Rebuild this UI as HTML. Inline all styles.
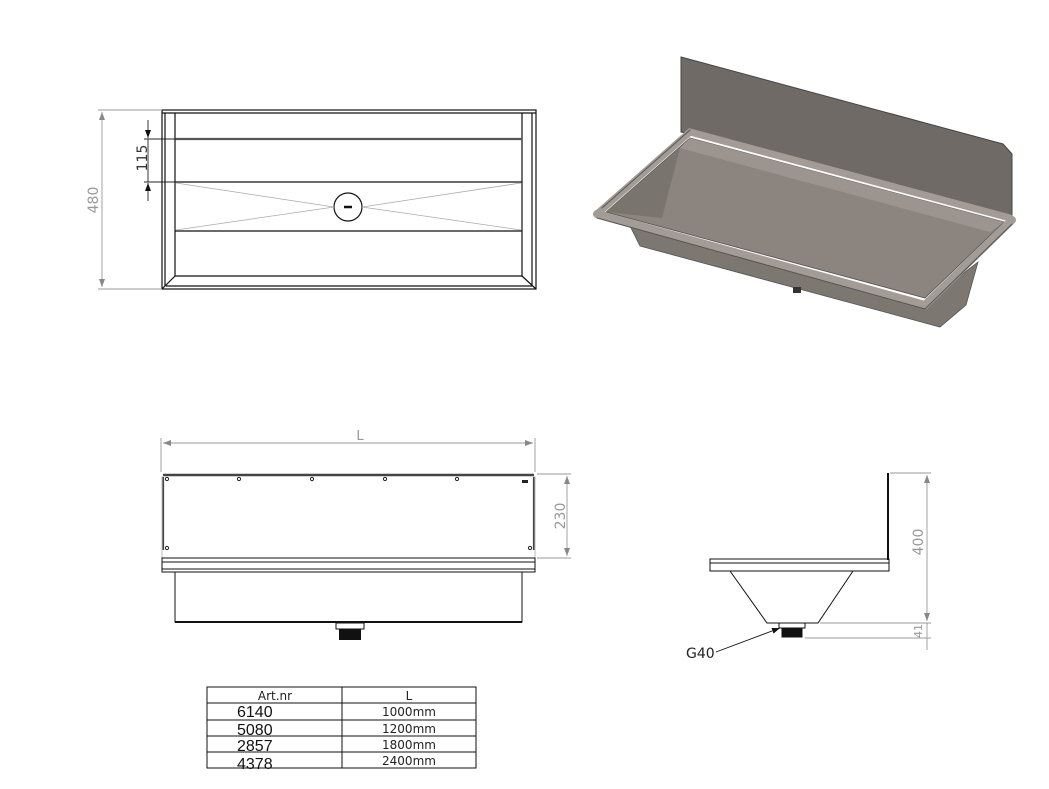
<!DOCTYPE html>
<html><head><meta charset="utf-8"><style>
html,body{margin:0;padding:0;background:#fff;}
svg{display:block;font-family:"DejaVu Sans","Liberation Sans",sans-serif;}
</style></head><body>
<svg width="1049" height="789" viewBox="0 0 1049 789" xmlns="http://www.w3.org/2000/svg">
<defs>
<marker id="ag" markerWidth="8" markerHeight="6" refX="8" refY="3" orient="auto-start-reverse" markerUnits="userSpaceOnUse"><path d="M0,0 L8,3 L0,6z" fill="#888"/></marker>
<marker id="ak" markerWidth="8" markerHeight="6" refX="8" refY="3" orient="auto-start-reverse" markerUnits="userSpaceOnUse"><path d="M0,0 L8,3 L0,6z" fill="#111"/></marker>
</defs>
<g fill="none" stroke="#111" stroke-width="1.2">
<rect x="162" y="110" width="374" height="179"/>
<line x1="162" y1="113" x2="536" y2="113"/>
<line x1="175" y1="113" x2="175" y2="276"/>
<line x1="522" y1="113" x2="522" y2="276"/>
<line x1="165" y1="113" x2="165" y2="286"/>
<line x1="532" y1="113" x2="532" y2="286"/>
<line x1="175" y1="276" x2="522" y2="276"/>
<line x1="166" y1="286" x2="532" y2="286"/>
<line x1="162" y1="289" x2="175" y2="276"/><line x1="536" y1="289" x2="522" y2="276"/>
<line x1="175" y1="139" x2="522" y2="139" stroke="#555" stroke-width="2.2"/>
<line x1="175" y1="182" x2="522" y2="182"/>
<line x1="175" y1="231" x2="522" y2="231"/>
<circle cx="348" cy="207" r="14"/>
<line x1="344" y1="207" x2="352" y2="207" stroke-width="2.5"/>
</g>
<g stroke="#aaa" stroke-width="0.8">
<line x1="176" y1="183" x2="334" y2="207"/><line x1="176" y1="230" x2="334" y2="207"/>
<line x1="521" y1="183" x2="362" y2="207"/><line x1="521" y1="230" x2="362" y2="207"/>
</g>
<g stroke="#999" stroke-width="0.9">
<line x1="98" y1="110" x2="162" y2="110"/><line x1="98" y1="289" x2="162" y2="289"/>
<line x1="102" y1="112" x2="102" y2="287" marker-start="url(#ag)" marker-end="url(#ag)"/>
</g>
<text transform="translate(98,200) rotate(-90)" text-anchor="middle" font-size="14" fill="#999">480</text>
<g stroke="#222" stroke-width="0.9">
<line x1="144" y1="139" x2="176" y2="139"/><line x1="144" y1="182" x2="176" y2="182"/>
<line x1="148" y1="120" x2="148" y2="138" marker-end="url(#ak)"/>
<line x1="148" y1="201" x2="148" y2="183" marker-end="url(#ak)"/>
<line x1="148" y1="139" x2="148" y2="182"/>
</g>
<text transform="translate(147,158) rotate(-90)" text-anchor="middle" font-size="14" fill="#333">115</text>

<polygon points="681,57 1003,144 1012,154 1012,218 681,132" fill="#6f6a66" stroke="#444" stroke-width="1"/>
<polygon points="630,226 640,246 940,327 966,305 978,262 925,303" fill="#7d7772" stroke="#555" stroke-width="0.8"/>
<polygon points="606,212 690,138 1004,222 925,298" fill="#8b847f" stroke="#555" stroke-width="0.8"/>
<polygon points="690,138 1004,222 990,232 680,148" fill="#9c958f"/>
<polygon points="606,212 680,148 662,218" fill="#7a746f"/>
<g fill="none" stroke-linecap="round">
<polyline points="597,214 690,132 1010,218" stroke="#a39c96" stroke-width="7"/>
<polyline points="597,214 925,305 1012,220" stroke="#a39c96" stroke-width="8"/>
<polyline points="597,218 925,309 1012,224" stroke="#555" stroke-width="1"/>
<polyline points="602,208 690,130" stroke="#555" stroke-width="1"/>
</g>
<rect x="793" y="287" width="8" height="6" fill="#333"/>

<g stroke="#999" stroke-width="0.9">
<line x1="161" y1="438" x2="161" y2="472"/><line x1="535" y1="438" x2="535" y2="472"/>
<line x1="163" y1="443" x2="533" y2="443" marker-start="url(#ag)" marker-end="url(#ag)"/>
<line x1="537" y1="474" x2="571" y2="474"/><line x1="537" y1="558" x2="571" y2="558"/>
<line x1="567" y1="476" x2="567" y2="556" marker-start="url(#ag)" marker-end="url(#ag)"/>
</g>
<text x="360" y="440" text-anchor="middle" font-size="13" fill="#999">L</text>
<text transform="translate(565,516) rotate(-90)" text-anchor="middle" font-size="14" fill="#999">230</text>
<g fill="none" stroke="#111" stroke-width="1">
<line x1="163" y1="475" x2="534" y2="475" stroke-width="2.5" stroke="#444"/>
<line x1="163" y1="477" x2="163" y2="550" stroke-width="2.2" stroke="#444"/>
<line x1="534" y1="477" x2="534" y2="550" stroke-width="2.2" stroke="#444"/>
<line x1="162" y1="476" x2="162" y2="558" stroke="#bbb"/>
<line x1="535" y1="476" x2="535" y2="558" stroke="#bbb"/>
<rect x="162" y="558" width="373" height="14"/>
<line x1="162" y1="562" x2="535" y2="562"/>
<line x1="162" y1="569" x2="535" y2="569"/>
<polyline points="175,572 175,622 522,622 522,572"/>
<line x1="175" y1="622" x2="522" y2="622" stroke-width="2"/>
</g>
<g fill="none" stroke="#222" stroke-width="1">
<circle cx="167" cy="479" r="1.6"/><circle cx="239" cy="479" r="1.6"/><circle cx="312" cy="479" r="1.6"/><circle cx="385" cy="479" r="1.6"/><circle cx="457" cy="479" r="1.6"/>
<circle cx="167" cy="548" r="1.6"/><circle cx="530" cy="548" r="1.6"/>
</g>
<rect x="522" y="480" width="6" height="3" fill="#222"/>
<rect x="336" y="623" width="28" height="6" fill="#fff" stroke="#111"/>
<rect x="339" y="629" width="22" height="11" fill="#111"/>

<g fill="none" stroke="#111" stroke-width="1">
<line x1="888" y1="473" x2="888" y2="560" stroke-width="2"/>
<rect x="710" y="559" width="179" height="12"/>
<line x1="710" y1="563" x2="889" y2="563"/>
<polyline points="730,571 767,623 818,623 853,571"/>
<rect x="779" y="623" width="26" height="5" fill="#fff"/>
<rect x="782" y="628" width="20" height="9" fill="#111"/>
</g>
<g stroke="#999" stroke-width="0.9">
<line x1="890" y1="473" x2="931" y2="473"/><line x1="820" y1="623" x2="931" y2="623"/><line x1="805" y1="638" x2="931" y2="638"/>
<line x1="927" y1="475" x2="927" y2="621" marker-start="url(#ag)" marker-end="url(#ag)"/>
<line x1="927" y1="623" x2="927" y2="650" />
</g>
<text transform="translate(923,542) rotate(-90)" text-anchor="middle" font-size="14" fill="#999">400</text>
<text transform="translate(922,631) rotate(-90)" text-anchor="middle" font-size="11" fill="#999">41</text>
<line x1="716" y1="652" x2="780" y2="628" stroke="#111" stroke-width="0.9" marker-end="url(#ak)"/>
<text x="686" y="658" font-size="14" fill="#222">G40</text>

<g fill="none" stroke="#111" stroke-width="1">
<rect x="207" y="687" width="269" height="81"/>
<line x1="342" y1="687" x2="342" y2="768"/>
<line x1="207" y1="703" x2="476" y2="703"/>
<line x1="207" y1="720" x2="476" y2="720"/>
<line x1="207" y1="736" x2="476" y2="736"/>
<line x1="207" y1="752" x2="476" y2="752"/>
</g>
<g font-size="12" fill="#222" text-anchor="middle">
<text x="275" y="700">Art.nr</text><text x="409" y="700">L</text>
<text x="409" y="716">1000mm</text><text x="409" y="733">1200mm</text><text x="409" y="749">1800mm</text><text x="409" y="765">2400mm</text>
</g>
<g font-size="16" fill="#111" font-family="Liberation Sans, sans-serif">
<text x="237" y="717">6140</text><text x="237" y="735">5080</text><text x="237" y="751">2857</text><text x="237" y="769">4378</text>
</g>
</svg>
</body></html>
